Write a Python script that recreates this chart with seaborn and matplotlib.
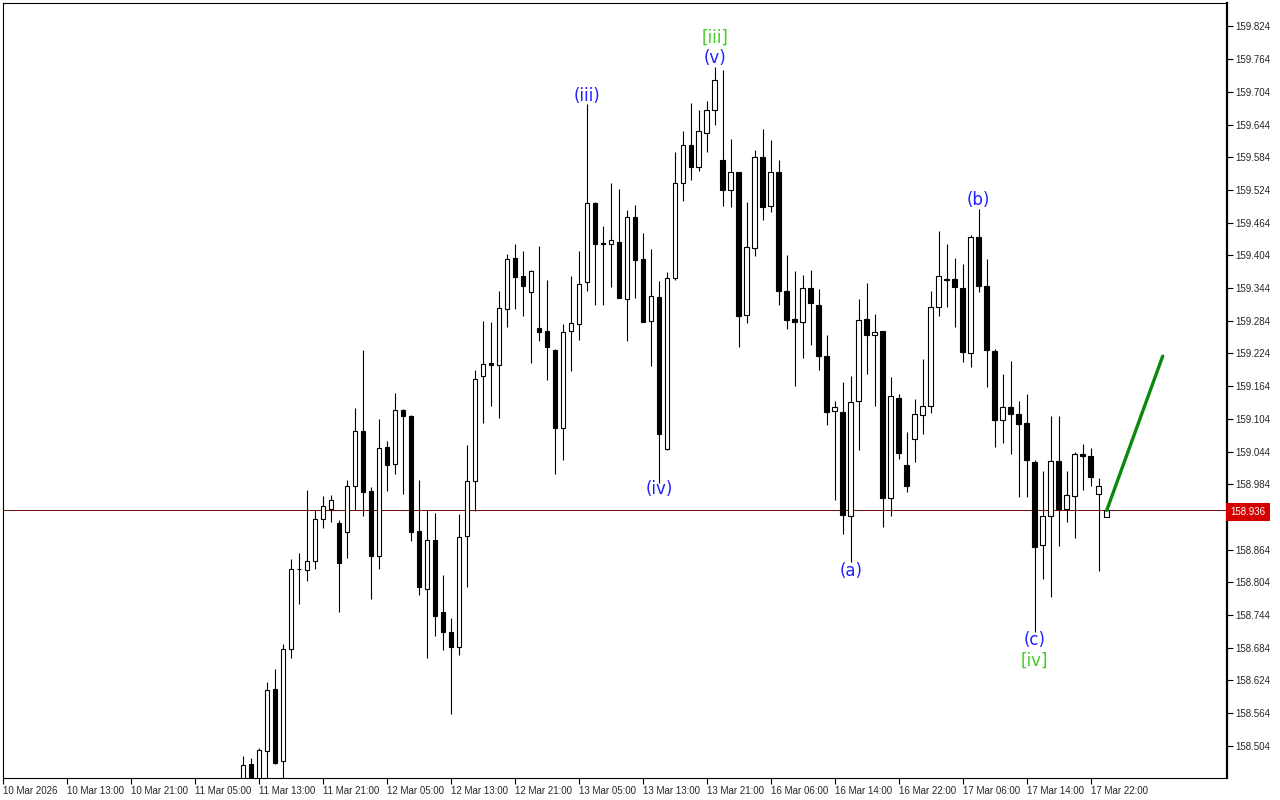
import matplotlib
matplotlib.use("Agg")
import matplotlib.pyplot as plt
import matplotlib.transforms as mtransforms
import seaborn as sns
import pandas as pd

# hourly candles, bar index 0 = 10 Mar 05:00 (first visible candle is bar 30)
first_bar = 30
opens = [158.423, 158.471, 158.423, 158.494, 158.608, 158.476, 158.681, 158.828, 158.826, 158.843,
         158.920, 158.939, 158.913, 158.896, 158.980, 159.082, 158.972, 158.853, 159.052, 159.022,
         159.120, 159.109, 158.898, 158.792, 158.882, 158.750, 158.713, 158.685, 158.889, 158.990,
         159.183, 159.206, 159.202, 159.306, 159.399, 159.367, 159.336, 159.271, 159.265, 159.230,
         159.088, 159.265, 159.278, 159.355, 159.500, 159.426, 159.425, 159.428, 159.323, 159.475,
         159.397, 159.283, 159.327, 159.049, 159.362, 159.536, 159.606, 159.567, 159.628, 159.670,
         159.579, 159.523, 159.556, 159.294, 159.417, 159.585, 159.494, 159.556, 159.339, 159.287,
         159.281, 159.344, 159.312, 159.219, 159.118, 159.116, 158.925, 159.136, 159.287, 159.257,
         159.265, 158.958, 159.142, 159.019, 159.067, 159.111, 159.127, 159.309, 159.360, 159.360,
         159.344, 159.224, 159.437, 159.347, 159.228, 159.101, 159.126, 159.112, 159.096, 159.024,
         158.872, 158.925, 159.026, 158.938, 158.962, 159.039, 159.036, 158.967, 158.923]
highs = [158.485, 158.481, 158.500, 158.621, 158.645, 158.690, 158.846, 158.857, 158.973, 158.936,
         158.962, 158.964, 158.918, 158.992, 159.124, 159.230, 158.979, 159.104, 159.063, 159.152,
         159.122, 159.111, 158.992, 158.937, 158.931, 158.818, 158.739, 158.929, 159.056, 159.194,
         159.284, 159.282, 159.339, 159.407, 159.425, 159.412, 159.377, 159.421, 159.359, 159.232,
         159.278, 159.366, 159.412, 159.682, 159.502, 159.458, 159.536, 159.526, 159.487, 159.496,
         159.445, 159.416, 159.357, 159.374, 159.594, 159.632, 159.684, 159.671, 159.688, 159.750,
         159.744, 159.618, 159.557, 159.501, 159.597, 159.636, 159.616, 159.579, 159.405, 159.375,
         159.368, 159.377, 159.342, 159.258, 159.137, 159.172, 159.183, 159.324, 159.354, 159.296,
         159.265, 159.181, 159.150, 159.080, 159.141, 159.214, 159.339, 159.449, 159.425, 159.399,
         159.388, 159.441, 159.489, 159.397, 159.232, 159.186, 159.210, 159.137, 159.150, 159.028,
         159.008, 159.109, 159.109, 159.008, 159.043, 159.058, 159.051, 158.996, 158.936]
lows = [158.405, 158.396, 158.405, 158.423, 158.471, 158.423, 158.665, 158.764, 158.807, 158.829,
        158.904, 158.914, 158.750, 158.849, 158.936, 158.925, 158.774, 158.829, 158.972, 159.003,
        158.967, 158.879, 158.780, 158.666, 158.706, 158.680, 158.562, 158.671, 158.796, 158.934,
        159.097, 159.128, 159.106, 159.273, 159.306, 159.293, 159.207, 159.247, 159.176, 159.003,
        159.029, 159.192, 159.249, 159.339, 159.312, 159.312, 159.345, 159.325, 159.246, 159.325,
        159.281, 159.201, 158.986, 159.046, 159.358, 159.504, 159.543, 159.558, 159.593, 159.643,
        159.494, 159.492, 159.235, 159.279, 159.402, 159.468, 159.484, 159.313, 159.268, 159.165,
        159.216, 159.240, 159.193, 159.092, 158.955, 158.893, 158.842, 159.046, 159.187, 159.128,
        158.905, 158.926, 159.030, 158.969, 159.024, 159.077, 159.114, 159.293, 159.310, 159.272,
        159.209, 159.200, 159.337, 159.163, 159.053, 159.060, 159.040, 158.960, 158.960, 158.713,
        158.810, 158.777, 158.871, 158.914, 158.886, 158.974, 158.980, 158.824, 158.923]
closes = [158.468, 158.414, 158.496, 158.606, 158.473, 158.681, 158.828, 158.828, 158.843, 158.920,
          158.944, 158.955, 158.840, 158.980, 159.081, 158.970, 158.853, 159.050, 159.020, 159.120,
          159.109, 158.897, 158.795, 158.881, 158.743, 158.712, 158.686, 158.887, 158.990, 159.177,
          159.204, 159.202, 159.307, 159.397, 159.365, 159.347, 159.375, 159.264, 159.236, 159.088,
          159.263, 159.279, 159.351, 159.500, 159.425, 159.424, 159.432, 159.326, 159.474, 159.396,
          159.282, 159.329, 159.076, 159.362, 159.536, 159.606, 159.567, 159.632, 159.670, 159.725,
          159.523, 159.556, 159.293, 159.419, 159.585, 159.493, 159.556, 159.339, 159.285, 159.281,
          159.344, 159.316, 159.219, 159.117, 159.125, 158.928, 159.134, 159.285, 159.257, 159.263,
          158.959, 159.145, 159.041, 158.980, 159.112, 159.127, 159.309, 159.367, 159.358, 159.345,
          159.226, 159.437, 159.347, 159.230, 159.101, 159.125, 159.112, 159.094, 159.028, 158.869,
          158.925, 159.026, 158.938, 158.964, 159.040, 159.035, 158.997, 158.981, 158.936]

time_labels = ["10 Mar 2026", "10 Mar 13:00", "10 Mar 21:00", "11 Mar 05:00", "11 Mar 13:00",
               "11 Mar 21:00", "12 Mar 05:00", "12 Mar 13:00", "12 Mar 21:00", "13 Mar 05:00",
               "13 Mar 13:00", "13 Mar 21:00", "16 Mar 06:00", "16 Mar 14:00", "16 Mar 22:00",
               "17 Mar 06:00", "17 Mar 14:00", "17 Mar 22:00"]
price_ticks = [158.504, 158.564, 158.624, 158.684, 158.744, 158.804, 158.864, 158.924, 158.984,
               159.044, 159.104, 159.164, 159.224, 159.284, 159.344, 159.404, 159.464, 159.524,
               159.584, 159.644, 159.704, 159.764, 159.824]
last_price = 158.936

# wave marks: (text, bar, price, colour)
wave_labels = [("(iii)", 73, 159.696, "#1f1fff"),
               ("(iv)", 82, 158.975, "#1f1fff"),
               ("(v)", 89, 159.767, "#1f1fff"),
               ("[iii]", 89, 159.803, "#44cc22"),
               ("(a)", 106, 158.825, "#1f1fff"),
               ("(b)", 122, 159.506, "#1f1fff"),
               ("(c)", 129, 158.698, "#1f1fff"),
               ("[iv]", 129, 158.661, "#44cc22")]
proj_bars = [138, 145]
proj_prices = [158.936, 159.219]

df = pd.DataFrame({"open": opens, "high": highs, "low": lows, "close": closes})
df["bar"] = range(first_bar, first_bar + len(df))

sns.set_style("white")
plt.rcParams["font.family"] = ["Liberation Sans", "DejaVu Sans"]

fig = plt.figure(figsize=(12.8, 8), dpi=100)
ax = fig.add_axes([3 / 1280, 22 / 800, 1224 / 1280, 775 / 800])

# wicks
ax.vlines(df["bar"], df["low"], df["high"], color="black", linewidth=0.8, zorder=2)
# bodies
up = df["close"] >= df["open"]
body_bottom = df[["open", "close"]].min(axis=1)
body_height = (df["close"] - df["open"]).abs().clip(lower=0.0008)
ax.bar(df["bar"][up], body_height[up], bottom=body_bottom[up], width=0.58,
       color="white", edgecolor="black", linewidth=0.8, zorder=3)
ax.bar(df["bar"][~up], body_height[~up], bottom=body_bottom[~up], width=0.58,
       color="black", edgecolor="black", linewidth=0.8, zorder=3)

# last price line
ax.axhline(last_price, color="#7a1010", linewidth=0.72, zorder=1)

# projection
sns.lineplot(x=proj_bars, y=proj_prices, color="#0a8a0a", linewidth=2.4, ax=ax, zorder=4)

for txt, b, p, col in wave_labels:
    ax.text(b, p, txt, color=col, fontsize=12, ha="center", va="center",
            family="DejaVu Sans", zorder=5)

ax.set_xlim(0.04, 153.04)
ax.set_ylim(158.445, 159.867)

ax.set_xticks(range(0, 8 * len(time_labels), 8))
ax.set_xticklabels(time_labels, ha="left", fontsize=7)
ax.yaxis.tick_right()
ax.set_yticks(price_ticks)
ax.set_yticklabels([f"{v:.3f}" for v in price_ticks], fontsize=7)
ax.tick_params(axis="both", direction="out", length=4, width=0.8, color="black",
               pad=2, bottom=True, right=True, left=False)
for side in ax.spines.values():
    side.set_color("black")
    side.set_linewidth(0.8)
ax.spines["right"].set_linewidth(1.6)
ax.set_xlabel("")
ax.set_ylabel("")

# price marker on the axis (covers the 158.924 tick label like the terminal does)
trans = mtransforms.blended_transform_factory(ax.transAxes, ax.transData)
ax.text(1.003, last_price - 0.003, f"{last_price:.3f}", transform=trans, ha="left", va="center",
        fontsize=7, color="white", clip_on=False, zorder=10,
        bbox=dict(boxstyle="square,pad=0.45", fc="#d40000", ec="none"))

fig.savefig("out.png", dpi=100)
